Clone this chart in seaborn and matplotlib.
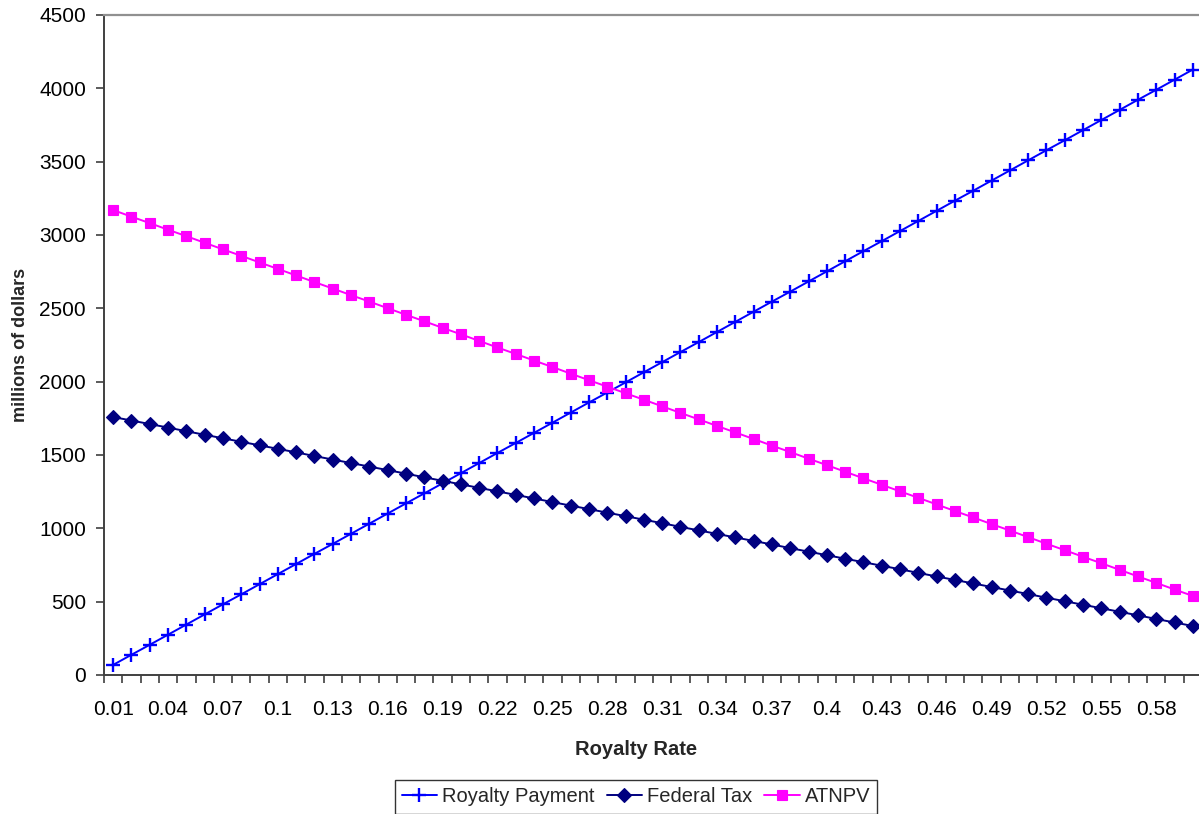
import matplotlib
matplotlib.use("Agg")
import matplotlib.pyplot as plt
import seaborn as sns
import pandas as pd
from matplotlib.ticker import FixedLocator

# Royalty rates (category axis)
rates = [0.01, 0.02, 0.03, 0.04, 0.05, 0.06, 0.07, 0.08, 0.09, 0.10,
         0.11, 0.12, 0.13, 0.14, 0.15, 0.16, 0.17, 0.18, 0.19, 0.20,
         0.21, 0.22, 0.23, 0.24, 0.25, 0.26, 0.27, 0.28, 0.29, 0.30,
         0.31, 0.32, 0.33, 0.34, 0.35, 0.36, 0.37, 0.38, 0.39, 0.40,
         0.41, 0.42, 0.43, 0.44, 0.45, 0.46, 0.47, 0.48, 0.49, 0.50,
         0.51, 0.52, 0.53, 0.54, 0.55, 0.56, 0.57, 0.58, 0.59, 0.60]

# millions of dollars
royalty_payment = [69, 138, 206, 275, 344, 413, 482, 550, 619, 688,
                   757, 826, 894, 963, 1032, 1101, 1170, 1238, 1307, 1376,
                   1445, 1514, 1582, 1651, 1720, 1789, 1858, 1926, 1995, 2064,
                   2133, 2202, 2270, 2339, 2408, 2477, 2546, 2614, 2683, 2752,
                   2821, 2890, 2958, 3027, 3096, 3165, 3234, 3302, 3371, 3440,
                   3509, 3578, 3646, 3715, 3784, 3853, 3922, 3990, 4059, 4128]

federal_tax = [1759, 1735, 1711, 1687, 1662, 1638, 1614, 1590, 1566, 1542,
               1518, 1493, 1469, 1445, 1421, 1397, 1373, 1348, 1324, 1300,
               1276, 1252, 1228, 1204, 1179, 1155, 1131, 1107, 1083, 1059,
               1035, 1010, 986, 962, 938, 914, 890, 865, 841, 817,
               793, 769, 745, 721, 696, 672, 648, 624, 600, 576,
               552, 527, 503, 479, 455, 431, 407, 382, 358, 334]

atnpv = [3170, 3125, 3081, 3036, 2992, 2947, 2902, 2858, 2813, 2769,
         2724, 2679, 2635, 2590, 2546, 2501, 2456, 2412, 2367, 2323,
         2278, 2233, 2189, 2144, 2100, 2055, 2010, 1966, 1921, 1877,
         1832, 1787, 1743, 1698, 1654, 1609, 1564, 1520, 1475, 1431,
         1386, 1341, 1297, 1252, 1208, 1163, 1118, 1074, 1029, 985,
         940, 895, 851, 806, 762, 717, 672, 628, 583, 539]

y_ticks = [0, 500, 1000, 1500, 2000, 2500, 3000, 3500, 4000, 4500]

sns.set_style("white")
plt.rcParams["font.family"] = ["Liberation Sans", "DejaVu Sans"]

df = pd.DataFrame({
    "pos": list(range(len(rates))),
    "rate": rates,
    "Royalty Payment": royalty_payment,
    "Federal Tax": federal_tax,
    "ATNPV": atnpv,
})

fig = plt.figure(figsize=(11.99, 8.14), dpi=100)
W, H = 1199, 814
ax = fig.add_axes([104 / W, 1 - 675 / H, 1098 / W, 660 / H])

sns.lineplot(data=df, x="pos", y="Royalty Payment", ax=ax, color="#0000FF",
             marker="+", markersize=10, markeredgewidth=1.7,
             markeredgecolor="#0000FF", linewidth=1.4,
             label="Royalty Payment")
sns.lineplot(data=df, x="pos", y="Federal Tax", ax=ax, color="#000080",
             marker="D", markersize=7, markeredgecolor="#000080",
             markeredgewidth=0.8, linewidth=1.4, label="Federal Tax")
sns.lineplot(data=df, x="pos", y="ATNPV", ax=ax, color="#FF00FF",
             marker="s", markersize=7.5, markeredgecolor="#FF00FF",
             markeredgewidth=0.8, linewidth=1.4, label="ATNPV")

n = len(rates)
ax.set_xlim(-0.5, n - 0.5)
ax.set_ylim(0, 4500)

# labels on every third category, tick marks on category boundaries
label_pos = list(range(0, n, 3))
ax.xaxis.set_major_locator(FixedLocator(label_pos))
ax.set_xticklabels([f"{rates[i]:g}" for i in label_pos])
ax.xaxis.set_minor_locator(FixedLocator([i - 0.5 for i in range(n + 1)]))
ax.tick_params(axis="x", which="major", length=0, pad=18, labelsize=15,
               colors="black")
ax.tick_params(axis="x", which="minor", bottom=True, length=6, width=1.2,
               color="#404040", direction="out")

ax.set_yticks(y_ticks)
ax.tick_params(axis="y", which="major", left=True, length=6, width=1.2,
               color="#404040", direction="out", pad=7, labelsize=15,
               labelcolor="black")

for side in ("left", "bottom"):
    ax.spines[side].set_color("#404040")
    ax.spines[side].set_linewidth(1.4)
ax.spines["top"].set_color("#909090")
ax.spines["top"].set_linewidth(1.6)
ax.spines["right"].set_visible(False)

ax.set_xlabel("Royalty Rate", fontsize=14.5, fontweight="bold")
ax.xaxis.set_label_coords((636 - 104) / 1098, -(740 - 675) / 660)
ax.set_ylabel("millions of dollars", fontsize=13, fontweight="bold")
ax.yaxis.set_label_coords((29 - 104) / 1098, 0.5)

leg = ax.legend(loc="center", bbox_to_anchor=(636 / W, 1 - 797 / H),
                bbox_transform=fig.transFigure, ncol=3, fontsize=14.5,
                frameon=True, fancybox=False, edgecolor="black",
                handlelength=1.75, handletextpad=0.25, columnspacing=0.6,
                borderpad=0.35, borderaxespad=0)
leg.get_frame().set_linewidth(1.0)

fig.savefig("out.png", dpi=100)
